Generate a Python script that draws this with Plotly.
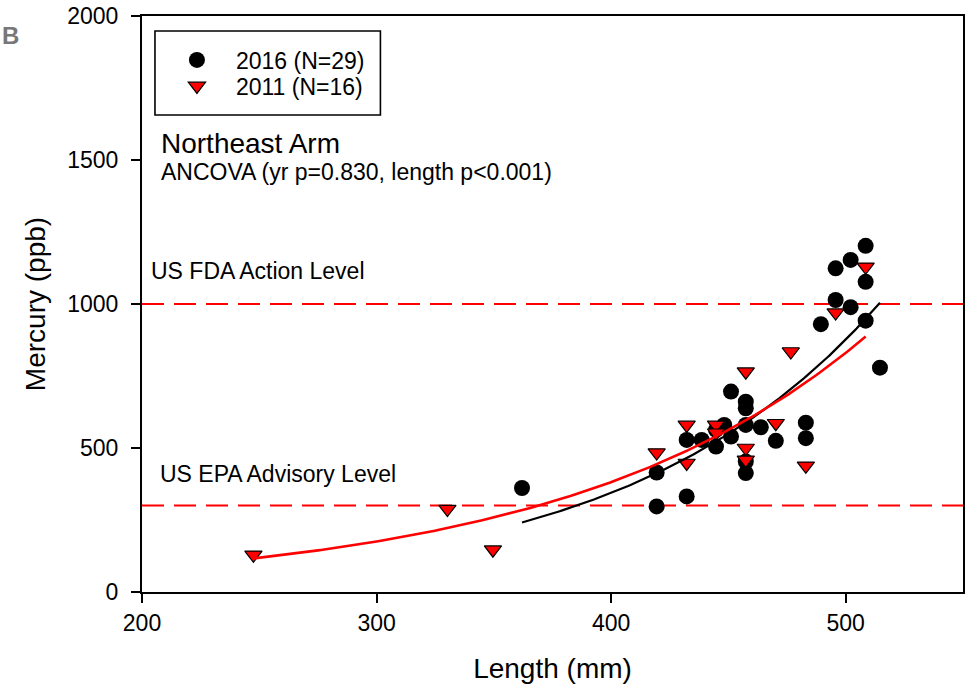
import numpy as np
import plotly.graph_objects as go

# Fish length (mm) and mercury (ppb), Northeast Arm
len_2016 = [362.0, 419.4, 419.4, 432.2, 432.2, 438.6, 444.7, 444.7, 448.2, 451.1,
            451.1, 457.4, 457.4, 457.4, 463.8, 470.2, 483.0, 483.0, 457.4, 457.4,
            508.5, 502.1, 495.7, 508.5, 495.7, 502.1, 489.4, 508.5, 514.6]
hg_2016 = [361, 415, 297, 332, 528, 528, 505, 563, 580, 540,
           696, 661, 638, 580, 572, 525, 588, 534, 453, 413,
           1202, 1153, 1124, 1077, 1014, 989, 930, 942, 779]

len_2011 = [247.5, 330.2, 349.6, 419.4, 432.2, 432.2, 444.7, 444.7, 457.4, 457.4,
            457.4, 470.2, 476.6, 483.0, 508.5, 495.7]
hg_2011 = [129, 288, 147, 484, 580, 448, 580, 553, 765, 500,
           459, 586, 835, 438, 1129, 970]

# Exponential regression fits: Hg = a * exp(b * length)
fit_2016 = (8.20, 0.009343)
fit_2011 = (17.04, 0.007772)

# Consumption guideline levels (ppb)
fda_level = 1000
epa_level = 300

x_ticks = [200, 300, 400, 500]
y_ticks = [0, 500, 1000, 1500, 2000]

FONT = "Arial, Liberation Sans, sans-serif"


def fit_curve(lengths, coef):
    a, b = coef
    xs = np.linspace(min(lengths), max(lengths), 200)
    return xs, a * np.exp(b * xs)


fig = go.Figure()

fig.add_trace(go.Scatter(
    x=len_2016, y=hg_2016, mode="markers", name="2016 (N=29)",
    marker=dict(symbol="circle", size=16, color="black"),
    legend="legend",
))
fig.add_trace(go.Scatter(
    x=len_2011, y=hg_2011, mode="markers", name="2011 (N=16)",
    marker=dict(symbol="triangle-down", size=15, color="#ff0000",
                line=dict(color="black", width=1.2)),
    legend="legend2",
))

cx, cy = fit_curve(len_2016, fit_2016)
fig.add_trace(go.Scatter(x=cx, y=cy, mode="lines", showlegend=False,
                         line=dict(color="black", width=2.2)))
cx, cy = fit_curve(len_2011, fit_2011)
fig.add_trace(go.Scatter(x=cx, y=cy, mode="lines", showlegend=False,
                         line=dict(color="#ff0000", width=2.6)))

# Guideline reference lines
for lvl in (fda_level, epa_level):
    fig.add_shape(type="line", xref="paper", x0=0, x1=1, yref="y", y0=lvl, y1=lvl,
                  line=dict(color="#ff0000", width=2, dash="22px,10px"), layer="below")

# Legend frame
fig.add_shape(type="rect", xref="paper", yref="paper",
              x0=0.0158, x1=0.2904, y0=0.8281, y1=0.9740,
              line=dict(color="black", width=1.6), fillcolor="rgba(0,0,0,0)")

annotations = [
    dict(text="Northeast Arm", x=0.0205, y=0.7790, size=28),
    dict(text="ANCOVA (yr p=0.830, length p<0.001)", x=0.0205, y=0.7300, size=23),
    dict(text="US FDA Action Level", x=0.0090, y=0.5565, size=23),
    dict(text="US EPA Advisory Level", x=0.0200, y=0.2040, size=23),
]
for a in annotations:
    fig.add_annotation(text=a["text"], x=a["x"], y=a["y"], xref="paper", yref="paper",
                       xanchor="left", yanchor="middle", showarrow=False,
                       font=dict(family=FONT, size=a["size"], color="black"))

# Panel letter
fig.add_annotation(text="<b>B</b>", x=-0.1725, y=0.9660, xref="paper", yref="paper",
                   xanchor="left", yanchor="middle", showarrow=False,
                   font=dict(family=FONT, size=24, color="#777777"))

axis_common = dict(
    showgrid=False, zeroline=False, showline=True, linecolor="black", linewidth=2,
    mirror=True, ticks="outside", ticklen=9, tickwidth=2, tickcolor="black",
    tickfont=dict(family=FONT, size=23, color="black"),
)

fig.update_layout(
    width=968, height=694,
    margin=dict(l=142, r=3, t=16, b=102),
    paper_bgcolor="white", plot_bgcolor="white",
    xaxis=dict(range=[200, 550], tickvals=x_ticks, ticklabelstandoff=0,
               title=dict(text="Length (mm)", standoff=24,
                          font=dict(family=FONT, size=28, color="black")),
               **axis_common),
    yaxis=dict(range=[0, 2000], tickvals=y_ticks, ticklabelstandoff=8,
               title=dict(text="Mercury (ppb)", standoff=13,
                          font=dict(family=FONT, size=28, color="black")),
               **axis_common),
    legend=dict(x=0.0194, y=0.9236, xanchor="left", yanchor="middle",
                bgcolor="rgba(0,0,0,0)", borderwidth=0, itemwidth=68,
                font=dict(family=FONT, size=23, color="black")),
    legend2=dict(x=0.0194, y=0.8785, xanchor="left", yanchor="middle",
                 bgcolor="rgba(0,0,0,0)", borderwidth=0, itemwidth=68,
                 font=dict(family=FONT, size=23, color="black")),
    showlegend=True,
)

fig.write_html("out.html")
